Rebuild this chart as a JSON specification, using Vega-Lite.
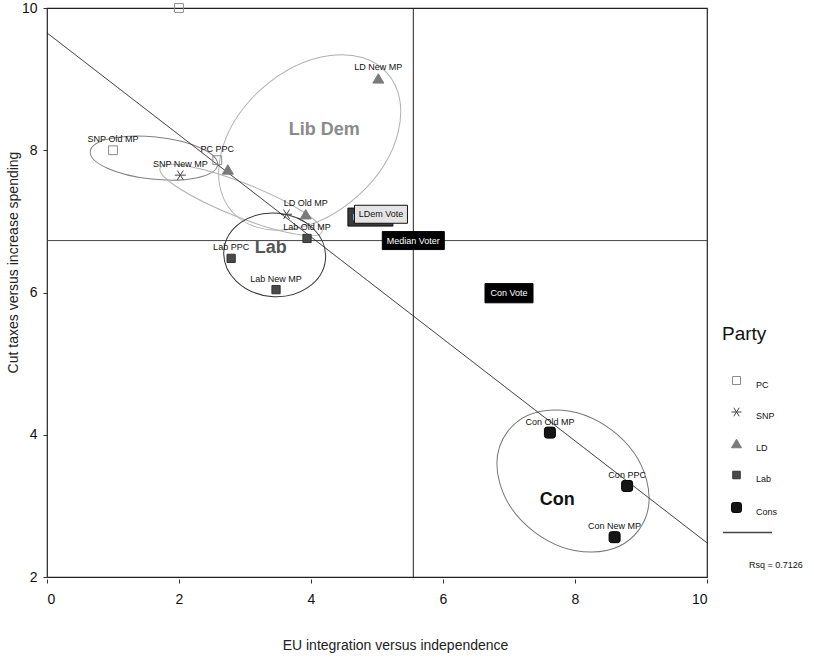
{
  "$schema": "https://vega.github.io/schema/vega-lite/v6.json",
  "width": 660,
  "height": 569,
  "autosize": {"type": "none"},
  "padding": {"left": 47, "top": 8, "right": 107, "bottom": 82},
  "background": "white",
  "config": {
    "font": "Liberation Sans",
    "view": {"stroke": "#222", "strokeWidth": 1.2},
    "axis": {
      "domain": false, "grid": false,
      "labelFontSize": 14, "labelColor": "#111", "labelFont": "Liberation Sans",
      "tickColor": "#333", "tickSize": 4,
      "titleFontSize": 14, "titleFontWeight": "normal", "titleColor": "#222", "titleFont": "Liberation Sans"
    }
  },
  "datasets": {
    "points": [
      {"Party": "PC", "Label": "", "x": 2.0, "y": 10.0},
      {"Party": "PC", "Label": "SNP Old MP", "x": 1.0, "y": 8.0},
      {"Party": "PC", "Label": "PC PPC", "x": 2.58, "y": 7.86},
      {"Party": "SNP", "Label": "SNP New MP", "x": 2.02, "y": 7.65},
      {"Party": "SNP", "Label": "", "x": 3.63, "y": 7.1},
      {"Party": "LD", "Label": "", "x": 2.74, "y": 7.73},
      {"Party": "LD", "Label": "LD New MP", "x": 5.02, "y": 9.01},
      {"Party": "LD", "Label": "LD Old MP", "x": 3.92, "y": 7.1},
      {"Party": "Lab", "Label": "Lab Old MP", "x": 3.94, "y": 6.76},
      {"Party": "Lab", "Label": "Lab PPC", "x": 2.79, "y": 6.48},
      {"Party": "Lab", "Label": "Lab New MP", "x": 3.47, "y": 6.04},
      {"Party": "Cons", "Label": "Con Old MP", "x": 7.62, "y": 4.03},
      {"Party": "Cons", "Label": "Con PPC", "x": 8.79, "y": 3.28},
      {"Party": "Cons", "Label": "Con New MP", "x": 8.6, "y": 2.56}
    ],
    "ellipses": [
      {"Group": "PC", "x": 1.62, "y": 7.89},
      {"Group": "SNP", "x": 2.94, "y": 7.3},
      {"Group": "LD", "x": 3.98, "y": 8.11},
      {"Group": "Lab", "x": 3.45, "y": 6.53},
      {"Group": "Cons", "x": 7.97, "y": 3.35}
    ],
    "fit": [
      {"x": 0, "y": 9.65, "Fit": "Linear"},
      {"x": 10, "y": 2.48, "Fit": "Linear"}
    ],
    "median": [{"x": 5.55, "y": 6.73}],
    "names": [
      {"Name": "Lib Dem", "x": 4.2, "y": 8.28},
      {"Name": "Lab", "x": 3.39, "y": 6.63},
      {"Name": "Con", "x": 7.73, "y": 3.08}
    ],
    "boxes": [
      {"Name": "Lab Vote", "x": 4.9, "y": 7.06},
      {"Name": "LDem Vote", "x": 5.06, "y": 7.1},
      {"Name": "Median Voter", "x": 5.55, "y": 6.73},
      {"Name": "Con Vote", "x": 7.0, "y": 5.99}
    ]
  },
  "layer": [
    {
      "data": {"name": "ellipses"},
      "transform": [{"filter": "datum.Group === 'PC'"}],
      "mark": {"type": "point", "shape": "M-1,0A1,0.33 0 1,1 1,0A1,0.33 0 1,1 -1,0Z", "size": 16384, "angle": 6, "filled": false, "stroke": "#808080", "strokeWidth": 1, "opacity": 1},
      "encoding": {
        "x": {"field": "x", "type": "quantitative", "scale": {"domain": [0, 10], "nice": false, "zero": false},
              "axis": {"values": [0, 2, 4, 6, 8, 10], "format": "d", "offset": 2, "labelPadding": 9, "title": "EU integration versus independence", "titleX": 348, "titleY": 66, "titleBaseline": "middle", "titleAnchor": "start", "titleAlign": "center"}},
        "y": {"field": "y", "type": "quantitative", "scale": {"domain": [2, 10], "nice": false, "zero": false},
              "axis": {"values": [2, 4, 6, 8, 10], "format": "d", "labelPadding": 6, "title": "Cut taxes versus increase spending", "titleX": -34, "titleY": 254, "titleAngle": 270, "titleBaseline": "middle", "titleAlign": "center", "titleAnchor": "start"}}
      }
    },
    {
      "data": {"name": "ellipses"},
      "transform": [{"filter": "datum.Group === 'SNP'"}],
      "mark": {"type": "point", "shape": "M-1,0A1,0.195 0 1,1 1,0A1,0.195 0 1,1 -1,0Z", "size": 30276, "angle": 21.6, "filled": false, "stroke": "#b0b0b0", "strokeWidth": 1, "opacity": 1},
      "encoding": {"x": {"field": "x", "type": "quantitative"}, "y": {"field": "y", "type": "quantitative"}}
    },
    {
      "data": {"name": "ellipses"},
      "transform": [{"filter": "datum.Group === 'LD'"}],
      "mark": {"type": "point", "shape": "M-1,0A1,0.692 0 1,1 1,0A1,0.692 0 1,1 -1,0Z", "size": 43264, "angle": -42, "filled": false, "stroke": "#b0b0b0", "strokeWidth": 1, "opacity": 1},
      "encoding": {"x": {"field": "x", "type": "quantitative"}, "y": {"field": "y", "type": "quantitative"}}
    },
    {
      "data": {"name": "ellipses"},
      "transform": [{"filter": "datum.Group === 'Lab'"}],
      "mark": {"type": "point", "shape": "M-1,0A1,0.82 0 1,1 1,0A1,0.82 0 1,1 -1,0Z", "size": 10404, "angle": 5, "filled": false, "stroke": "#333333", "strokeWidth": 1, "opacity": 1},
      "encoding": {"x": {"field": "x", "type": "quantitative"}, "y": {"field": "y", "type": "quantitative"}}
    },
    {
      "data": {"name": "ellipses"},
      "transform": [{"filter": "datum.Group === 'Cons'"}],
      "mark": {"type": "point", "shape": "M-1,0A1,0.78 0 1,1 1,0A1,0.78 0 1,1 -1,0Z", "size": 26896, "angle": 37, "filled": false, "stroke": "#777777", "strokeWidth": 1, "opacity": 1},
      "encoding": {"x": {"field": "x", "type": "quantitative"}, "y": {"field": "y", "type": "quantitative"}}
    },
    {
      "data": {"name": "median"},
      "mark": {"type": "rule", "color": "#222", "strokeWidth": 1},
      "encoding": {"x": {"field": "x", "type": "quantitative"}}
    },
    {
      "data": {"name": "median"},
      "mark": {"type": "rule", "color": "#444", "strokeWidth": 1},
      "encoding": {"y": {"field": "y", "type": "quantitative"}}
    },
    {
      "data": {"name": "fit"},
      "mark": {"type": "line", "color": "#222", "strokeWidth": 1},
      "encoding": {
        "x": {"field": "x", "type": "quantitative"},
        "y": {"field": "y", "type": "quantitative"},
        "strokeDash": {"field": "Fit", "type": "nominal", "scale": {"range": [[1, 0]]},
          "legend": {"title": "Rsq = 0.7126", "titleOrient": "bottom", "titleAnchor": "middle", "titleAlign": "left", "titleFontSize": 9, "titleFontWeight": "normal", "titleColor": "#111", "titlePadding": 23,
                     "orient": "none", "legendX": 675, "legendY": 499, "symbolType": "stroke", "symbolSize": 2401, "symbolStrokeColor": "#444", "symbolStrokeWidth": 1.5, "labelExpr": "''", "labelOffset": 0, "padding": 0}}
      }
    },
    {
      "data": {"name": "points"},
      "mark": {"type": "point", "strokeWidth": 1, "opacity": 1, "size": 121},
      "encoding": {
        "x": {"field": "x", "type": "quantitative"},
        "y": {"field": "y", "type": "quantitative"},
        "shape": {"field": "Party", "type": "nominal",
          "scale": {"domain": ["PC", "SNP", "LD", "Lab", "Cons"], "range": [
            "M-0.8,-0.8H0.8V0.8H-0.8Z",
            "M-1,0L1,0M-0.55,-0.85L0.55,0.85M-0.55,0.85L0.55,-0.85",
            "M0,-0.85L1,0.85L-1,0.85Z",
            "M-0.75,-0.75H0.75V0.75H-0.75Z",
            "M-1,-0.55Q-1,-1 -0.55,-1L0.55,-1Q1,-1 1,-0.55L1,0.55Q1,1 0.55,1L-0.55,1Q-1,1 -1,0.55Z"]},
          "legend": {"title": "Party", "orient": "none", "legendX": 675, "legendY": 317, "titleFontSize": 19, "titleFontWeight": "normal", "titleColor": "#111", "titlePadding": 31,
                     "labelFontSize": 9, "labelColor": "#111", "labelBaseline": "top", "labelOffset": 14, "symbolOffset": 9, "rowPadding": 15.5, "symbolStrokeWidth": 1, "padding": 0}},
        "fill": {"field": "Party", "type": "nominal", "scale": {"domain": ["PC", "SNP", "LD", "Lab", "Cons"], "range": ["transparent", "transparent", "#7a7a7a", "#4a4a4a", "#151515"]}},
        "stroke": {"field": "Party", "type": "nominal", "scale": {"domain": ["PC", "SNP", "LD", "Lab", "Cons"], "range": ["#8a8a8a", "#444444", "#7a7a7a", "#333333", "#000000"]}}
      }
    },
    {
      "data": {"name": "points"},
      "transform": [{"filter": "datum.Label != ''"}],
      "mark": {"type": "text", "dy": -11, "fontSize": 9, "color": "#111"},
      "encoding": {
        "x": {"field": "x", "type": "quantitative"},
        "y": {"field": "y", "type": "quantitative"},
        "text": {"field": "Label"}
      }
    },
    {
      "data": {"name": "names"},
      "mark": {"type": "text", "fontSize": 18, "fontWeight": "bold"},
      "encoding": {
        "x": {"field": "x", "type": "quantitative"},
        "y": {"field": "y", "type": "quantitative"},
        "text": {"field": "Name"},
        "color": {"field": "Name", "type": "nominal", "scale": {"domain": ["Lib Dem", "Lab", "Con"], "range": ["#8a8a8a", "#555555", "#111111"]}, "legend": null}
      }
    },
    {
      "data": {"name": "boxes"},
      "transform": [{"filter": "datum.Name === 'Lab Vote'"}],
      "mark": {"type": "point", "shape": "M-1,-0.4H1V0.4H-1Z", "size": 2025, "filled": true, "fill": "#3a3a3a", "stroke": "#111", "strokeWidth": 1, "opacity": 1},
      "encoding": {"x": {"field": "x", "type": "quantitative"}, "y": {"field": "y", "type": "quantitative"}}
    },
    {
      "data": {"name": "boxes"},
      "transform": [{"filter": "datum.Name === 'Lab Vote'"}],
      "mark": {"type": "text", "fontSize": 9, "color": "white"},
      "encoding": {"x": {"field": "x", "type": "quantitative"}, "y": {"field": "y", "type": "quantitative"}, "text": {"field": "Name"}}
    },
    {
      "data": {"name": "boxes"},
      "transform": [{"filter": "datum.Name === 'LDem Vote'"}],
      "mark": {"type": "point", "shape": "M-1,-0.34H1V0.34H-1Z", "size": 2809, "filled": true, "fill": "#e4e4e4", "stroke": "#111", "strokeWidth": 1, "opacity": 1},
      "encoding": {"x": {"field": "x", "type": "quantitative"}, "y": {"field": "y", "type": "quantitative"}}
    },
    {
      "data": {"name": "boxes"},
      "transform": [{"filter": "datum.Name === 'LDem Vote'"}],
      "mark": {"type": "text", "fontSize": 9, "color": "#111"},
      "encoding": {"x": {"field": "x", "type": "quantitative"}, "y": {"field": "y", "type": "quantitative"}, "text": {"field": "Name"}}
    },
    {
      "data": {"name": "boxes"},
      "transform": [{"filter": "datum.Name === 'Median Voter'"}],
      "mark": {"type": "point", "shape": "M-1,-0.29H1V0.29H-1Z", "size": 3844, "filled": true, "fill": "#000", "stroke": "#000", "strokeWidth": 1, "opacity": 1},
      "encoding": {"x": {"field": "x", "type": "quantitative"}, "y": {"field": "y", "type": "quantitative"}}
    },
    {
      "data": {"name": "boxes"},
      "transform": [{"filter": "datum.Name === 'Con Vote'"}],
      "mark": {"type": "point", "shape": "M-1,-0.4H1V0.4H-1Z", "size": 2304, "filled": true, "fill": "#000", "stroke": "#000", "strokeWidth": 1, "opacity": 1},
      "encoding": {"x": {"field": "x", "type": "quantitative"}, "y": {"field": "y", "type": "quantitative"}}
    },
    {
      "data": {"name": "boxes"},
      "transform": [{"filter": {"field": "Name", "oneOf": ["Median Voter", "Con Vote"]}}],
      "mark": {"type": "text", "fontSize": 9, "color": "white"},
      "encoding": {"x": {"field": "x", "type": "quantitative"}, "y": {"field": "y", "type": "quantitative"}, "text": {"field": "Name"}}
    }
  ]
}
